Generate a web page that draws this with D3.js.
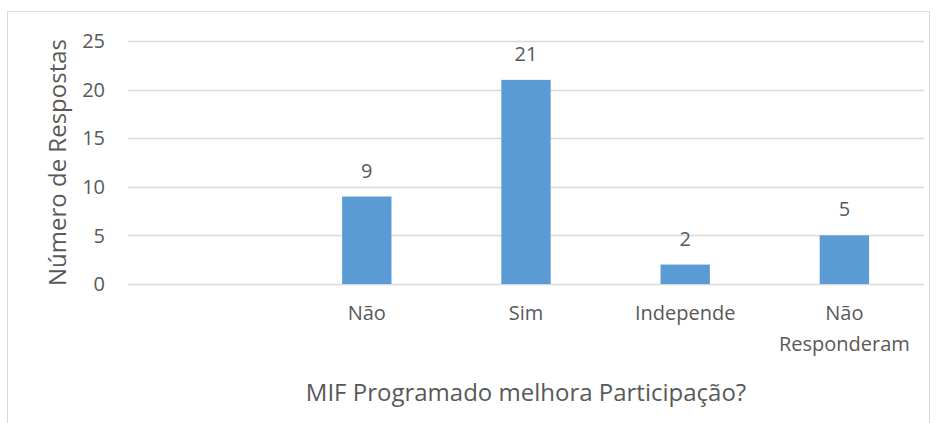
<!DOCTYPE html>
<html>
<head>
<meta charset="utf-8">
<script src="https://cdn.jsdelivr.net/npm/d3@7"></script>
<style>
    body { margin: 0; background: #fff; }
    text { font-family: "Open Sans", "Noto Sans", sans-serif; fill: #595959; }
</style>
</head>
<body>
<script>
// Data (first category is empty in the original chart)
var categories = ['', 'Não', 'Sim', 'Independe', 'Não\nResponderam'];
var values = [null, 9, 21, 2, 5];
var yTicks = [0, 5, 10, 15, 20, 25];

var width = 937, height = 423;
var plot = {left: 128, right: 924, top: 41, bottom: 284};

var svg = d3.select('body')
    .append('svg')
    .attr('width', width)
    .attr('height', height);

// chart border
svg.append('rect')
    .attr('x', 7.5)
    .attr('y', 11.5)
    .attr('width', 922)
    .attr('height', 430)
    .style('fill', 'none')
    .style('stroke', '#d9d9d9');

var x = d3.scaleBand()
    .domain(d3.range(categories.length))
    .range([plot.left, plot.right])
    .paddingInner(0.69)
    .paddingOuter(0.345);

var y = d3.scaleLinear()
    .domain([0, 25])
    .range([plot.bottom, plot.top]);

// gridlines
svg.selectAll('.grid')
    .data(yTicks)
    .enter()
    .append('line')
    .attr('class', 'grid')
    .attr('x1', plot.left)
    .attr('x2', plot.right)
    .attr('y1', function(d){ return Math.round(y(d)) + 0.5; })
    .attr('y2', function(d){ return Math.round(y(d)) + 0.5; })
    .style('stroke', '#d9d9d9')
    .style('stroke-width', 1.3);

// y tick labels
svg.selectAll('.ytick')
    .data(yTicks)
    .enter()
    .append('text')
    .attr('class', 'ytick')
    .attr('x', 105)
    .attr('y', function(d){ return y(d); })
    .attr('dy', '0.36em')
    .attr('text-anchor', 'end')
    .style('font-size', '20px')
    .text(function(d){ return d; });

// bars
var data = values.map(function(v, i){ return {i: i, v: v}; })
    .filter(function(d){ return d.v !== null; });

svg.selectAll('.bar')
    .data(data)
    .enter()
    .append('rect')
    .attr('class', 'bar')
    .attr('x', function(d){ return x(d.i); })
    .attr('width', x.bandwidth())
    .attr('y', function(d){ return y(d.v); })
    .attr('height', function(d){ return y(0) - y(d.v); })
    .style('fill', '#5b9bd5');

// value labels
svg.selectAll('.vlabel')
    .data(data)
    .enter()
    .append('text')
    .attr('class', 'vlabel')
    .attr('x', function(d){ return x(d.i) + x.bandwidth() / 2; })
    .attr('y', function(d){ return y(d.v) - 19; })
    .attr('text-anchor', 'middle')
    .style('font-size', '20px')
    .text(function(d){ return d.v; });

// category labels
var cats = svg.selectAll('.cat')
    .data(categories)
    .enter()
    .append('text')
    .attr('class', 'cat')
    .attr('text-anchor', 'middle')
    .attr('y', 320)
    .style('font-size', '20px');

cats.selectAll('tspan')
    .data(function(d, i){
        return d.split('\n').map(function(s){ return {s: s, i: i}; });
    })
    .enter()
    .append('tspan')
    .attr('x', function(d){ return x(d.i) + x.bandwidth() / 2; })
    .attr('dy', function(d, j){ return j === 0 ? 0 : 31; })
    .text(function(d){ return d.s; });

// axis titles
svg.append('text')
    .attr('x', (plot.left + plot.right) / 2)
    .attr('y', 401)
    .attr('text-anchor', 'middle')
    .style('font-size', '24px')
    .text('MIF Programado melhora Participação?');

svg.append('text')
    .attr('transform', 'translate(66,' + (plot.top + plot.bottom) / 2 + ') rotate(-90)')
    .attr('text-anchor', 'middle')
    .style('font-size', '24px')
    .text('Número de Respostas');
</script>
</body>
</html>
